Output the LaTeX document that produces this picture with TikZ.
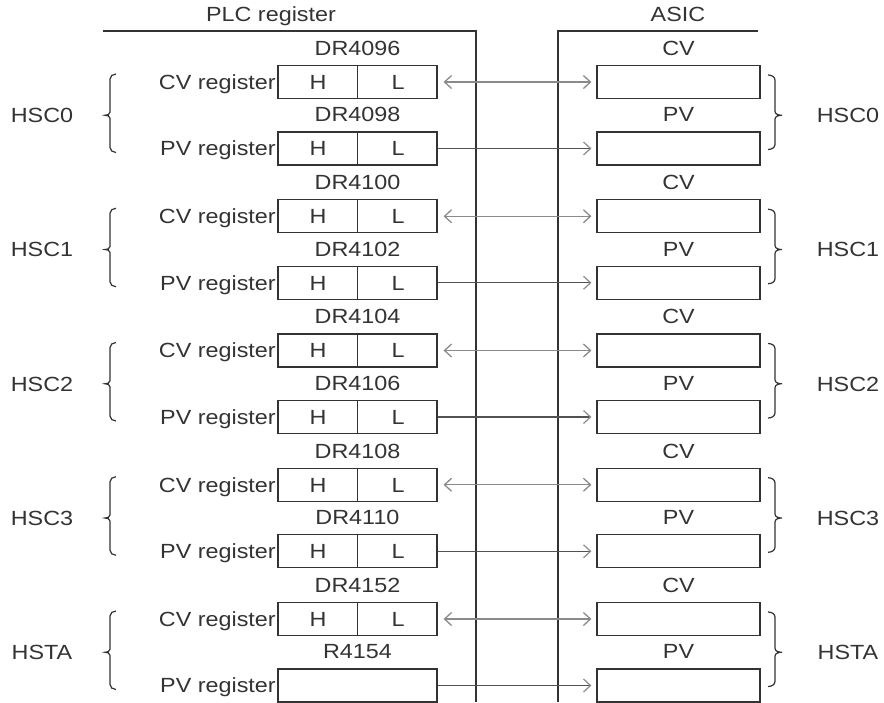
\documentclass[tikz,border=0pt]{standalone}
\usepackage{fontspec}
\setmainfont[FakeStretch=1.14]{Liberation Sans}
\usetikzlibrary{arrows.meta}
\definecolor{ink}{HTML}{333333}
\definecolor{arr}{HTML}{8A8A8A}
\begin{document}
\begin{tikzpicture}[x=1pt,y=-1pt,
  every node/.style={font=\fontsize{20.5}{24}\selectfont, text=ink, inner sep=0pt, text height=14.7pt, text depth=0pt},
  regbox/.style={draw=ink, line width=1.2pt, minimum width=159pt, minimum height=33pt, text height=, text depth=},
  asicbox/.style={draw=ink, line width=1.2pt, minimum width=163pt, minimum height=33pt, text height=, text depth=},
  frame/.style={draw=ink, line width=1.2pt},
  brc/.style={draw=ink, line width=1.2pt},
  >={Straight Barb[length=7pt,width=13pt]},
  cvarrow/.style={draw=arr, line width=1.3pt, <->},
  pvarrow/.style={draw=ink!85, line width=1.2pt, -{Straight Barb[length=7pt,width=13pt,color=arr]}},
]
\useasboundingbox (0,0) rectangle (884,702);

% titles and frame lines
\node (plc) at (271,14) {PLC register};
\node (asic) at (678,14) {ASIC};
\coordinate (p1) at (103,31);
\coordinate (p2) at (476,31);
\coordinate (p3) at (476,702);
\coordinate (a1) at (758,31);
\coordinate (a2) at (558,31);
\coordinate (a3) at (558,702);
\draw[frame] (p1) -- (p2) -- (p3);
\draw[frame] (a1) -- (a2) -- (a3);

\foreach \k/\g/\da/\db in {0/HSC0/DR4096/DR4098, 1/HSC1/DR4100/DR4102, 2/HSC2/DR4104/DR4106, 3/HSC3/DR4108/DR4110, 4/HSTA/DR4152/R4154}{
  \pgfmathsetmacro{\ycv}{82+134.25*\k}
  \pgfmathsetmacro{\ypv}{\ycv+66.5}
  \pgfmathsetmacro{\ym}{(\ycv+\ypv)/2}
  \pgfmathsetmacro{\ytop}{\ycv-8}
  \pgfmathsetmacro{\ybot}{\ypv+4}
  % left registers
  \node[regbox] (lcv\k) at (357.5,\ycv) {};
  \node[regbox] (lpv\k) at (357.5,\ypv) {};
  \node (lcvt\k) at (357.5,\ycv-34) {\da};
  \node (lpvt\k) at (357.5,\ypv-34) {\db};
  \node[anchor=east] (lcvn\k) at (276,\ycv) {CV register};
  \node[anchor=east] (lpvn\k) at (276,\ypv) {PV register};
  \node (lcvh\k) at (318,\ycv) {H};
  \node (lcvl\k) at (398,\ycv) {L};
  \draw[frame] (lcv\k.north) -- (lcv\k.south);
  \ifnum\k<4
    \node (lpvh\k) at (318,\ypv) {H};
    \node (lpvl\k) at (398,\ypv) {L};
    \draw[frame] (lpv\k.north) -- (lpv\k.south);
  \fi
  % ASIC registers
  \node[asicbox] (rcv\k) at (678.5,\ycv) {};
  \node[asicbox] (rpv\k) at (678.5,\ypv) {};
  \node (rcvt\k) at (678.5,\ycv-34) {CV};
  \node (rpvt\k) at (678.5,\ypv-34) {PV};
  % arrows
  \draw[cvarrow] ([xshift=6pt]lcv\k.east) -- ([xshift=-5pt]rcv\k.west);
  \draw[pvarrow] (lpv\k.east) -- ([xshift=-5pt]rpv\k.west);
  % group labels
  \node (gl\k) at (42,\ym) {\g};
  \node (gr\k) at (848,\ym) {\g};
  % left brace
  \draw[brc] (116,\ytop) to[out=180,in=90] (110,\ytop+5) -- (110,\ym-3)
     to[out=-90,in=0] (105,\ym) to[out=0,in=90] (110,\ym+3) -- (110,\ybot-5)
     to[out=-90,in=180] (116,\ybot);
  % right brace
  \draw[brc] (768,\ytop+1) to[out=0,in=90] (775,\ytop+6) -- (775,\ym-4)
     to[out=-90,in=180] (782,\ym) to[out=180,in=90] (775,\ym+4) -- (775,\ybot-8)
     to[out=-90,in=0] (768,\ybot-3);
}
\end{tikzpicture}
\end{document}
